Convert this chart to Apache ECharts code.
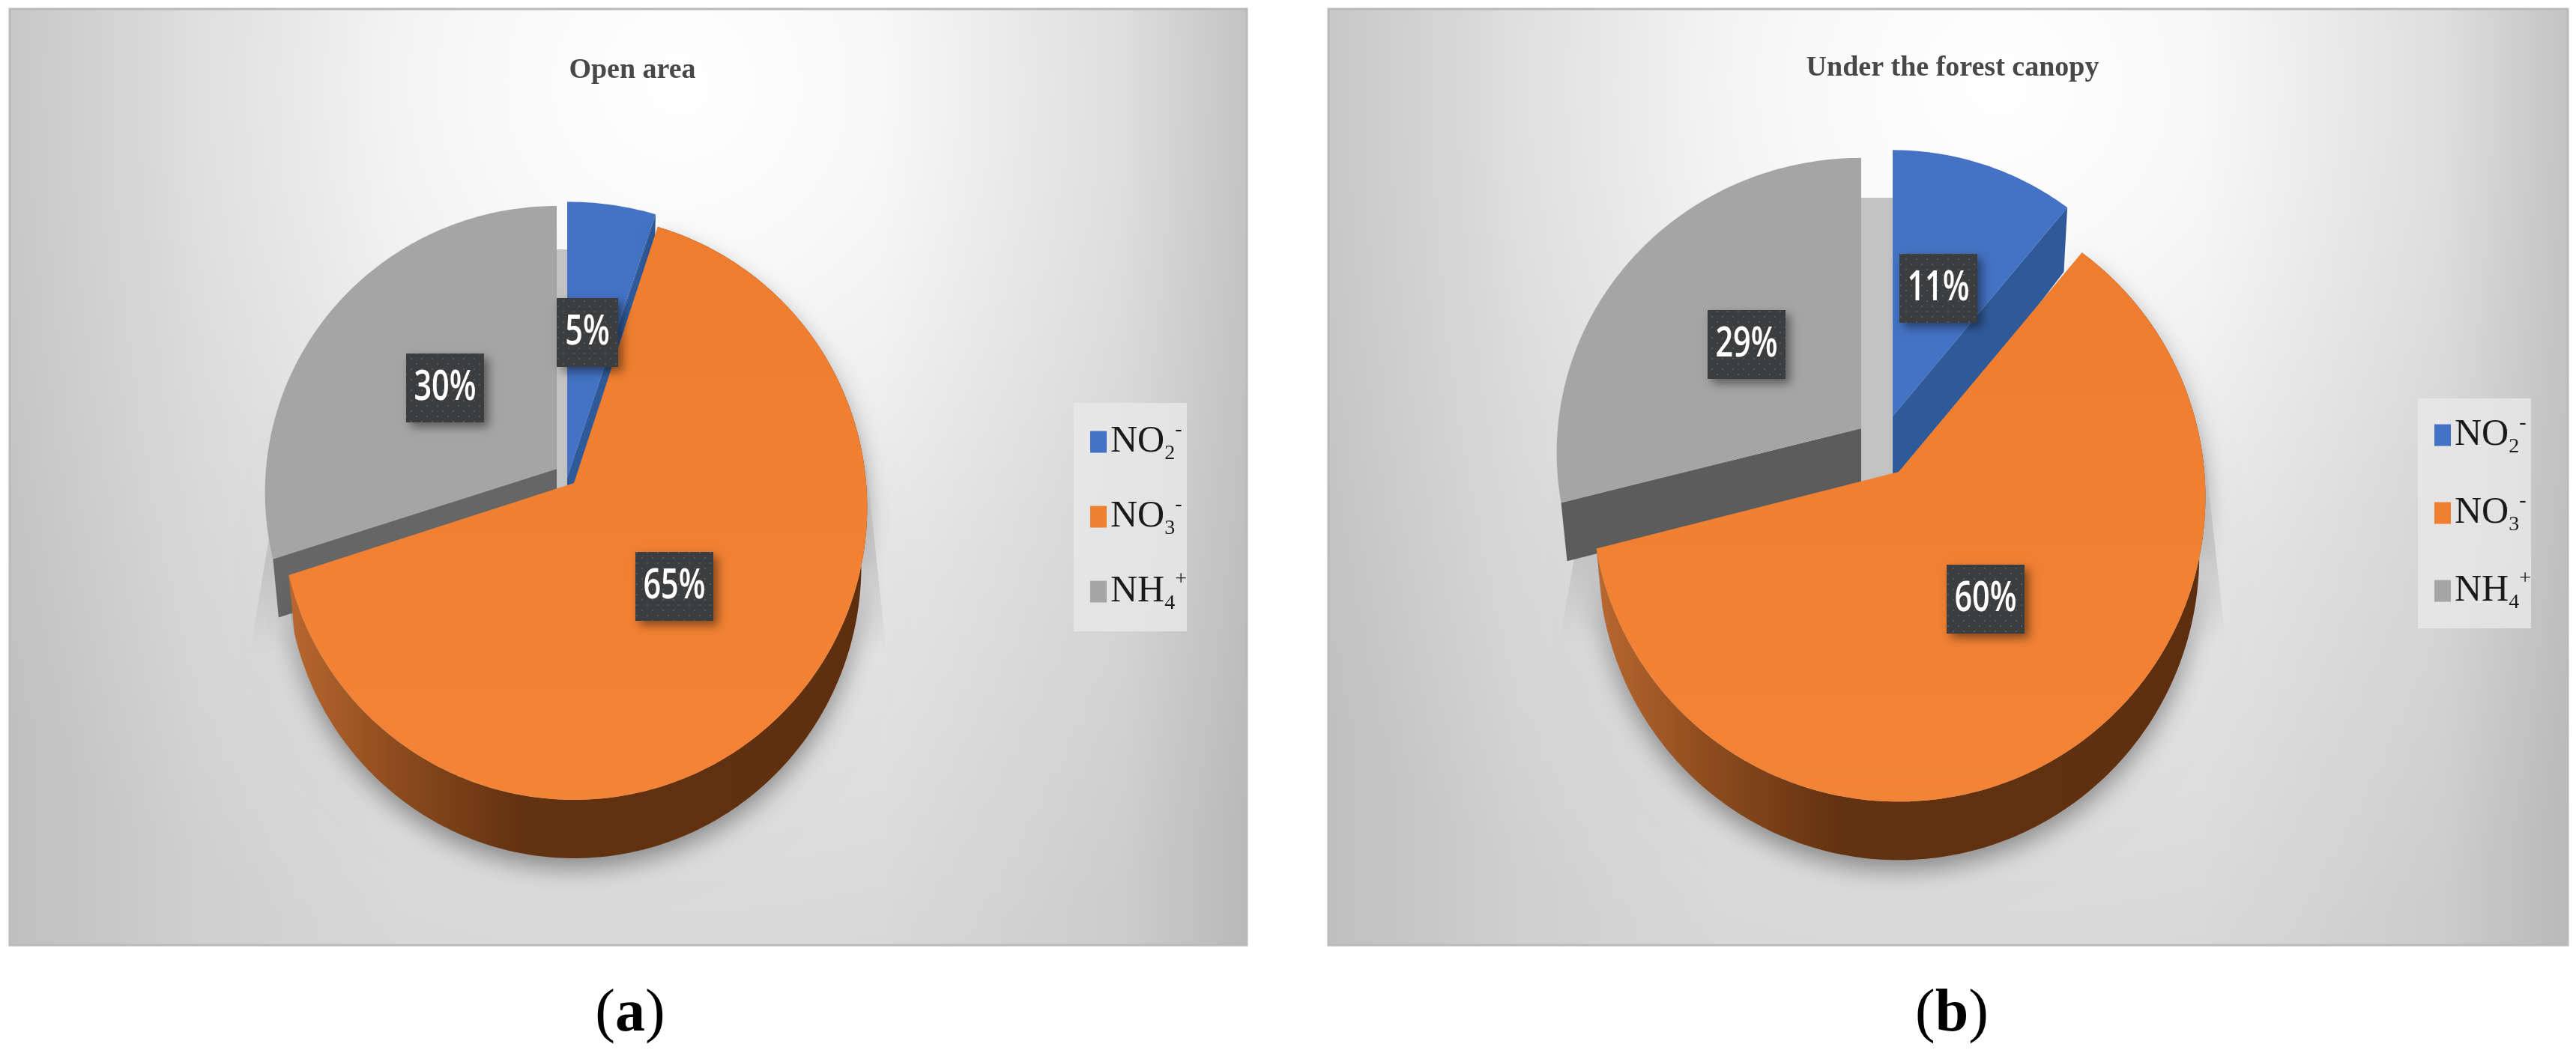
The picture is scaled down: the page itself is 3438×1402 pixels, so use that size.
<!DOCTYPE html>
<html lang="en">
<head>
    <meta charset="UTF-8">
    <title>nitrogen forms</title>
    <script src="https://cdn.jsdelivr.net/npm/echarts@6/dist/echarts.min.js"></script>
    <style>
        html, body { margin: 0; padding: 0; background: #fff; }
    </style>
</head>

<body>
<div id="main" style="width: 3438px;height:1402px;"></div>
<script>
    // values, in %
    var ions = ['NO2-', 'NO3-', 'NH4+'];
    var openArea = [5, 65, 30];
    var underCanopy = [11, 60, 29];
    var titles = ['Open area', 'Under the forest canopy'];
    var captions = ['a', 'b'];

    var colors = {'NO2-': '#4472c4', 'NO3-': '#f08031', 'NH4+': '#a5a5a5'};

    // perspective of the tilted pie
    var Q = 0.0826;
    var DROP = 78;
    var SHRINK = 0.98;

    // where each pie sits: apex and radii of every slice, because the slices are pulled apart
    var panels = [
        {
            values: openArea, box: [13, 12, 1651, 1250], titleX: 839, titleY: 70, capX: 836,
            wallColor: '#666666',
            slices: [
                {x: 757, y: 638, r: 412, rk: 399},
                {x: 766, y: 645, r: 390, rk: 388},
                {x: 743, y: 626, r: 388, rk: 380}
            ],
            gapTop: 333,
            labels: [[784, 444], [900, 783], [594, 518]]
        },
        {
            values: underCanopy, box: [1773, 12, 1654, 1250], titleX: 2601, titleY: 67, capX: 2600,
            wallColor: '#5c5c5c',
            slices: [
                {x: 2526, y: 556, r: 389, rk: 385},
                {x: 2534, y: 630, r: 408, rk: 404},
                {x: 2484, y: 572, r: 405, rk: 391}
            ],
            gapTop: 264,
            labels: [[2587, 385], [2650, 800], [2331, 460]]
        }
    ];

    var myChart = echarts.init(document.getElementById('main'));

    function proj(s, theta, drop) {
        var sx = Math.sin(theta);
        var sy = -Math.cos(theta);
        var w = 1 - Q * sy;
        var k = drop ? SHRINK : 1;
        return [s.x + k * s.r * sx / w, s.y + s.rk * sy / w + drop];
    }

    function arc(s, from, to, drop) {
        var pts = [];
        var n = Math.max(8, Math.round((to - from) * 60));
        for (var i = 0; i <= n; i++) {
            pts.push(proj(s, from + (to - from) * i / n, drop));
        }
        return pts;
    }

    function sliceAngles(values, idx, value) {
        var sum = 0;
        var before = 0;
        for (var i = 0; i < values.length; i++) {
            sum += values[i];
            if (i < idx) {
                before += values[i];
            }
        }
        var from = before / sum * Math.PI * 2;
        return [from, from + value / sum * Math.PI * 2];
    }

    function renderSlice(panel, idx) {
        return function (params, api) {
            var s = panel.slices[idx];
            var a = sliceAngles(panel.values, idx, api.value(0));
            var children = [];
            var face = [[s.x, s.y]].concat(arc(s, a[0], a[1], 0));
            var faceFill = colors[ions[idx]];
            if (idx == 2) {
                // soft ground shadow and the pale inner wall between the pulled slices
                var o = panel.slices[1];
                children.push({
                    type: 'polygon',
                    shape: {points: [
                        [o.x - o.r * 1.0, o.y - 30], [o.x + o.r * 1.0, o.y - 30],
                        [o.x + o.r * 1.07, o.y + 230], [o.x - o.r * 1.11, o.y + 230]
                    ]},
                    style: {
                        fill: new echarts.graphic.LinearGradient(0, 0, 0, 1, [
                            {offset: 0, color: 'rgba(0,0,0,0.01)'},
                            {offset: 0.5, color: 'rgba(0,0,0,0.11)'},
                            {offset: 1, color: 'rgba(0,0,0,0)'}
                        ])
                    }
                });
                children.push({
                    type: 'polygon',
                    shape: {points: arc(o, 0, Math.PI * 2, DROP)},
                    style: {fill: 'rgba(0,0,0,0.1)', shadowBlur: 60, shadowOffsetY: 10, shadowColor: 'rgba(0,0,0,0.3)'}
                });
                children.push({
                    type: 'rect',
                    shape: {x: s.x, y: panel.gapTop, width: panel.slices[0].x - s.x, height: o.y + 12 - panel.gapTop},
                    style: {fill: '#c2c2c2'}
                });
                var e = proj(s, a[0], 0);
                var e2 = proj(s, a[0], DROP);
                children.push({
                    type: 'polygon',
                    shape: {points: [[s.x, s.y], e, e2, [s.x, s.y + DROP]]},
                    style: {fill: panel.wallColor}
                });
            } else if (idx == 0) {
                var b = proj(s, a[1], 0);
                var b2 = proj(s, a[1], DROP + 8);
                children.push({
                    type: 'polygon',
                    shape: {points: [[s.x, s.y], b, b2, [s.x + 14, s.y + DROP + 8], [s.x, s.y + DROP + 8]]},
                    style: {fill: '#2f5a9a'}
                });
            } else {
                var rim = arc(s, a[0], a[1], 0).concat(arc(s, a[0], a[1], DROP).reverse());
                children.push({
                    type: 'polygon',
                    shape: {points: rim},
                    style: {
                        fill: new echarts.graphic.LinearGradient(0, 0, 1, 0, [
                            {offset: 0, color: '#b9682f'},
                            {offset: 0.18, color: '#8e4c1e'},
                            {offset: 0.4, color: '#633210'},
                            {offset: 1, color: '#5e2f0f'}
                        ]),
                        shadowBlur: 30,
                        shadowOffsetY: 14,
                        shadowColor: 'rgba(0,0,0,0.35)'
                    }
                });
                faceFill = new echarts.graphic.LinearGradient(0, 0, 0, 1, [
                    {offset: 0, color: '#ee7d2f'},
                    {offset: 1, color: '#f38336'}
                ]);
            }
            children.push({
                type: 'polygon',
                shape: {points: face},
                style: {fill: faceFill}
            });
            return {type: 'group', children: children};
        };
    }

    // dotted fill of the dark label boxes
    var dots = document.createElement('canvas');
    dots.width = 14;
    dots.height = 14;
    var ctx = dots.getContext('2d');
    ctx.fillStyle = '#3c3d3f';
    ctx.fillRect(0, 0, 14, 14);
    ctx.fillStyle = '#56575a';
    ctx.fillRect(2, 2, 2, 2);
    ctx.fillRect(9, 9, 2, 2);

    function renderLabel(panel) {
        return function (params, api) {
            var c = panel.labels[params.dataIndex];
            var w = api.value(0) < 10 ? 82 : 104;
            return {
                type: 'group',
                children: [{
                    type: 'rect',
                    shape: {x: c[0] - w / 2, y: c[1] - 46, width: w, height: 92},
                    style: {fill: '#3c3d3f', shadowBlur: 12, shadowOffsetX: 6, shadowOffsetY: 6, shadowColor: 'rgba(0,0,0,0.45)'}
                }, {
                    type: 'rect',
                    shape: {x: c[0] - w / 2, y: c[1] - 46, width: w, height: 92},
                    style: {fill: {image: dots, repeat: 'repeat'}}
                }, {
                    type: 'text',
                    x: c[0],
                    y: c[1],
                    scaleX: 0.74,
                    style: {
                        text: api.value(0) + '%',
                        fill: '#fff',
                        font: '600 56px "Open Sans"',
                        align: 'center',
                        verticalAlign: 'middle'
                    }
                }]
            };
        };
    }

    function panelBackground(box) {
        var base = {x: box[0], y: box[1], width: box[2], height: box[3]};
        return [{
            type: 'rect', z: 0, shape: base,
            style: {
                fill: new echarts.graphic.RadialGradient(0.54, 0.08, 0.98, [
                    {offset: 0, color: '#ffffff'},
                    {offset: 0.22, color: '#f8f8f8'},
                    {offset: 0.6, color: '#e4e4e4'},
                    {offset: 1, color: '#d7d7d7'}
                ])
            }
        }, {
            type: 'rect', z: 0, shape: base,
            style: {
                stroke: '#bababa',
                lineWidth: 3,
                fill: new echarts.graphic.LinearGradient(0, 0, 1, 0, [
                    {offset: 0, color: 'rgba(0,0,0,0.11)'},
                    {offset: 0.15, color: 'rgba(0,0,0,0.04)'},
                    {offset: 0.32, color: 'rgba(0,0,0,0)'},
                    {offset: 0.7, color: 'rgba(0,0,0,0)'},
                    {offset: 0.9, color: 'rgba(0,0,0,0.05)'},
                    {offset: 1, color: 'rgba(0,0,0,0.14)'}
                ])
            }
        }];
    }

    function legendText(name) {
        var p = name.match(/^([A-Z]+)(\d)(.)$/);
        return '{n|' + p[1] + '}{s|' + p[2] + '}{u|' + p[3] + '}';
    }

    function legendOf(left, top, padding, gap) {
        return {
            data: ions,
            orient: 'vertical',
            left: left,
            top: top,
            padding: padding,
            itemGap: gap,
            itemWidth: 22,
            itemHeight: 29,
            icon: 'rect',
            selectedMode: false,
            backgroundColor: 'rgba(233,233,233,0.8)',
            formatter: legendText,
            textStyle: {
                rich: {
                    n: {fontFamily: 'Liberation Serif', fontSize: 50, color: '#1a1a1a', lineHeight: 60},
                    s: {fontFamily: 'Liberation Serif', fontSize: 28, color: '#1a1a1a', lineHeight: 60, verticalAlign: 'bottom'},
                    u: {fontFamily: 'Liberation Serif', fontSize: 28, color: '#1a1a1a', lineHeight: 60, verticalAlign: 'top'}
                }
            }
        };
    }

    var series = [];
    var title = [];
    var graphicEls = [];
    panels.forEach(function (panel, p) {
        graphicEls = graphicEls.concat(panelBackground(panel.box));
        [2, 0, 1].forEach(function (idx) {
            series.push({
                type: 'custom',
                name: ions[idx],
                coordinateSystem: 'none',
                itemStyle: {color: colors[ions[idx]]},
                renderItem: renderSlice(panel, idx),
                silent: true,
                data: [[panel.values[idx]]]
            });
        });
        series.push({
            type: 'custom',
            name: 'labels' + p,
            coordinateSystem: 'none',
            z: 5,
            renderItem: renderLabel(panel),
            silent: true,
            data: panel.values.map(function (v) { return [v]; })
        });
        title.push({
            text: titles[p],
            left: panel.titleX,
            top: panel.titleY,
            textAlign: 'center',
            textStyle: {
                fontFamily: 'Liberation Serif', fontSize: 38, fontWeight: 'bold', color: '#484848'
            }
        });
        title.push({
            text: '{p|(}{b|' + captions[p] + '}{p|)}',
            left: panel.capX,
            top: 1310,
            textAlign: 'center',
            textStyle: {
                rich: {
                    p: {fontFamily: 'Liberation Serif', fontSize: 80, fontWeight: 'normal', color: '#000'},
                    b: {fontFamily: 'Liberation Serif', fontSize: 80, fontWeight: 'bold', color: '#000'}
                }
            }
        });
    });

    var option = {
        animation: false,
        backgroundColor: '#fff',
        title: title,
        legend: [
            legendOf(1433, 538, [22, 0, 23, 22], 40),
            legendOf(3227, 532, [19, 0, 20, 22], 44)
        ],
        graphic: {elements: graphicEls},
        series: series
    };
    myChart.setOption(option);
</script>
</body>
</html>
